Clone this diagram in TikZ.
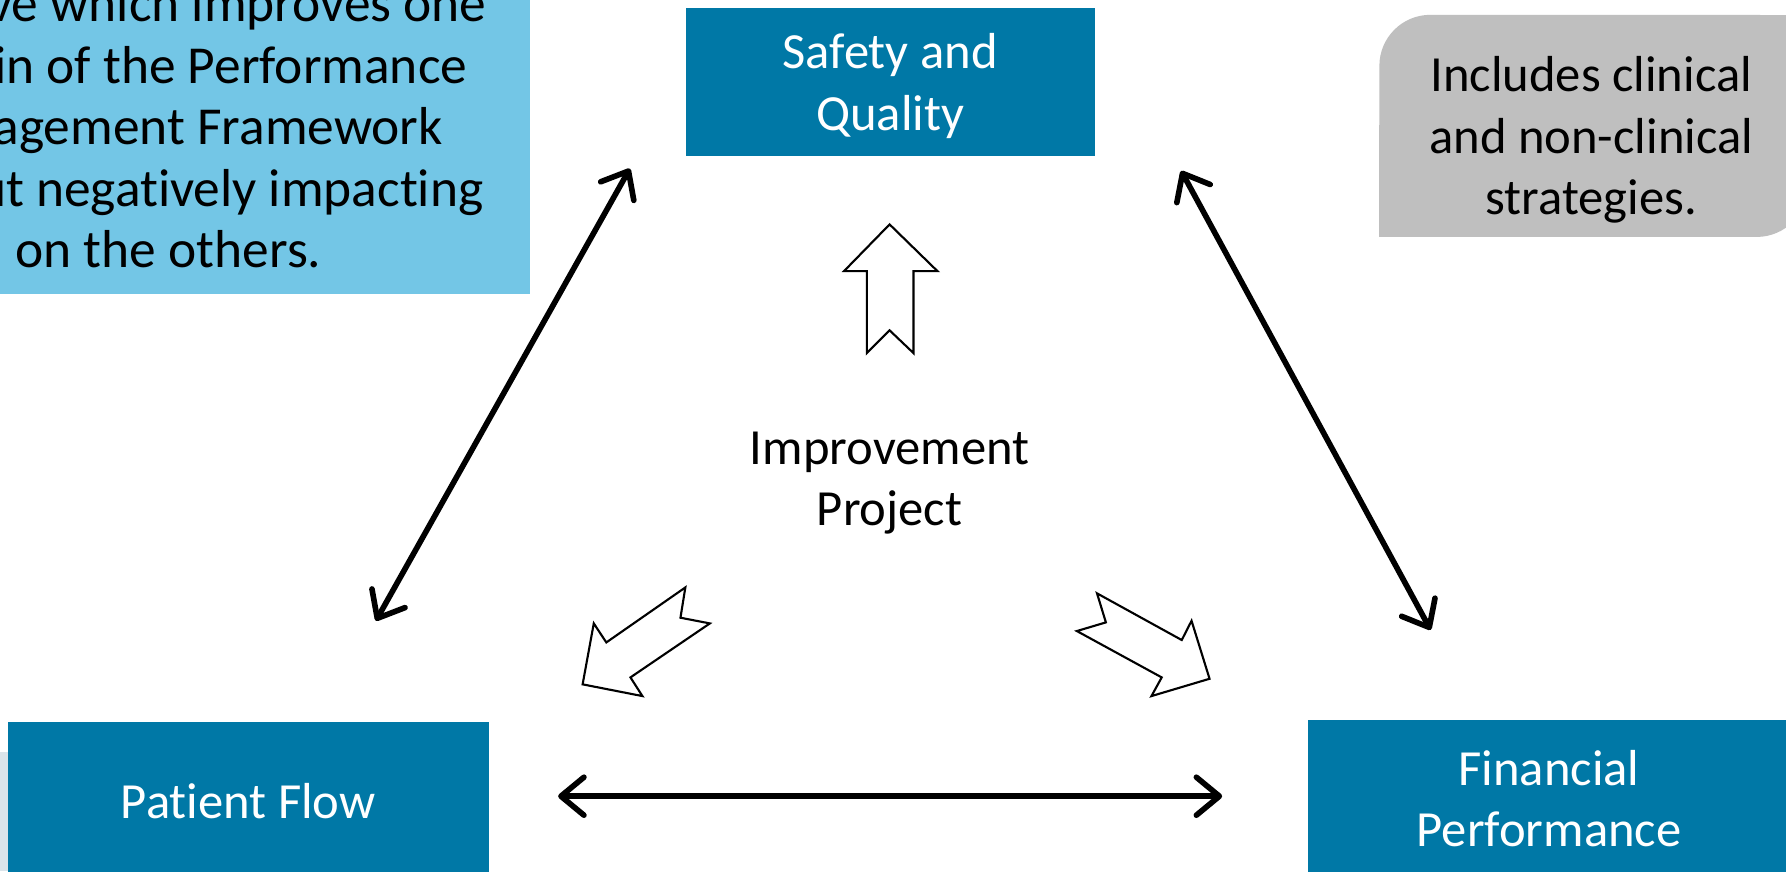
\documentclass[tikz,border=0pt]{standalone}
\usepackage{fontspec}
\setmainfont{Carlito}[Ligatures=NoCommon]
\usetikzlibrary{arrows.meta}
\definecolor{boxblue}{RGB}{0,120,166}
\definecolor{noteblue}{RGB}{115,198,230}
\definecolor{notegray}{RGB}{191,191,191}
\definecolor{edgegray}{RGB}{218,228,234}

\begin{document}
\begin{tikzpicture}[x=0.1139mm, y=-0.1139mm,
    txt/.style={align=center, inner sep=0pt, font=\fontsize{14.4}{17.5}\selectfont},
    area/.style={txt, fill=boxblue, text=white},
    link/.style={line width=1.6pt, {Straight Barb[round,length=2.3mm,width=3.8mm]}-{Straight Barb[round,length=2.3mm,width=3.8mm]}},
    hollow/.style={draw, line width=0.6pt, fill=white, line join=miter}]
  \clip (0,0) rectangle (1568,765);
  \fill[white] (0,0) rectangle (1568,765);
  \fill[edgegray] (0,660) rectangle (7,765);
  %
  \node[txt, fill=noteblue, minimum width=72.3mm, minimum height=39.6mm, font=\fontsize{15.2}{17.5}\selectfont] (aim) at (148,84) {Any improvement\\initiative which improves one\\domain of the Performance\\Management Framework\\without negatively impacting\\on the others.};
  \fill[notegray, rounded corners=5.1mm] (1211,13) rectangle (1587,208);
  \fill[notegray] (1400,13) rectangle (1587,100);
  \fill[notegray] (1211,110) rectangle (1400,208);
  \node[txt] (incl) at (1397,123) {Includes clinical\\and non-clinical\\strategies.};
  %
  \node[area, minimum width=40.9mm, minimum height=14.8mm] (safety) at (781.5,72) {};
  \node[txt, text=white] (safety-txt) at (781.5,75.5) {Safety and\\Quality};
  \node[area, minimum width=48.1mm, minimum height=15.7mm] (flow) at (218,703) {Patient Flow};
  \node[area, minimum width=48.3mm, minimum height=15.7mm] (finance) at (1360,701) {Financial\\Performance};
  \node[txt] (proj) at (781,424) {Improvement\\Project};
  %
  \coordinate (sq-sw) at (553,148);
  \coordinate (sq-se) at (1037,150);
  \coordinate (pf-ne) at (330,545);
  \coordinate (pf-e) at (490,699);
  \coordinate (fp-nw) at (1256,553);
  \coordinate (fp-w) at (1073,699);
  \draw[link] (sq-sw) -- (pf-ne);
  \draw[link] (sq-se) -- (fp-nw);
  \draw[link] (pf-e) -- (fp-w);
  %
  \draw[hollow] (781,197) -- (823,238) -- (802,238) -- (802,310) -- (781,290) -- (761,310) -- (761,238) -- (741,238) -- cycle;
  \draw[hollow] (601.7,515.7) -- (597.4,542.3) -- (623.2,547.3) -- (553.5,594.7) -- (564.0,611.1) -- (511.5,600.8) -- (521.3,547.3) -- (532.3,564.0) -- cycle;
  \draw[hollow] (963.1,520.9) -- (970.9,546.4) -- (945.4,554.0) -- (1019.9,594.7) -- (1010.9,611.1) -- (1061.9,595.9) -- (1046.1,545.0) -- (1037.5,561.9) -- cycle;
\end{tikzpicture}
\end{document}
